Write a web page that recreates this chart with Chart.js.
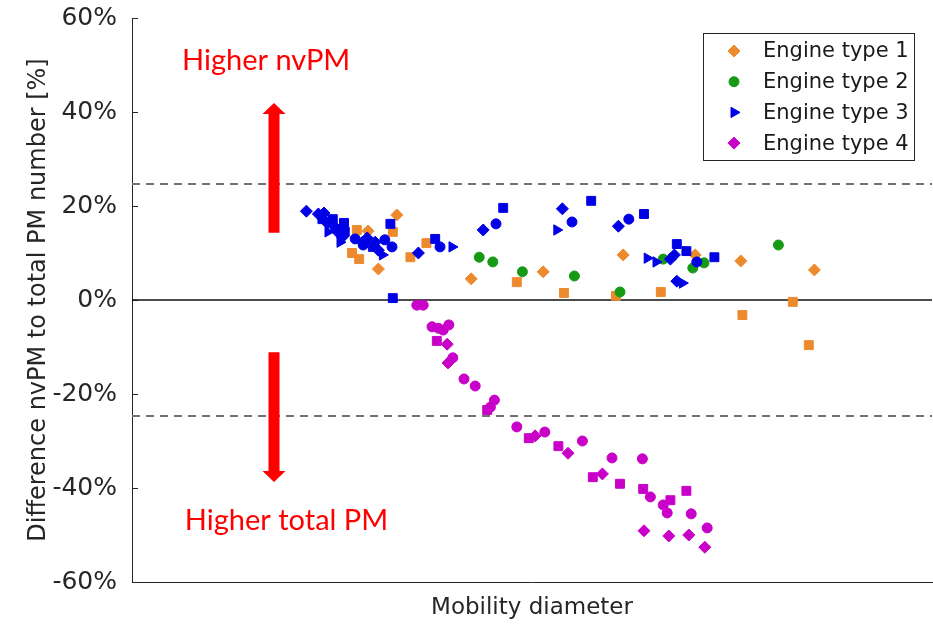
<!DOCTYPE html>
<html>
<head>
<meta charset="utf-8">
<script src="https://cdn.jsdelivr.net/npm/chart.js@4.4.1/dist/chart.umd.min.js"></script>
<style>
  html, body { margin: 0; padding: 0; background: #ffffff; }
  #wrap { width: 933px; height: 624px; }
</style>
</head>
<body>
<div id="wrap"><canvas id="c"></canvas></div>
<script>
// Series names and colours
const seriesNames = ['Engine type 1', 'Engine type 2', 'Engine type 3', 'Engine type 4'];
const seriesColors = ['#ee8a2e', '#169a16', '#0000e6', '#c800c8'];

// Marker code per point: d = diamond, c = circle, s = square, t = triangle
const type1X = [33.1, 32.6, 28.1, 29.5, 27.5, 28.4, 30.8, 34.8, 36.8, 42.4, 48.1, 51.4, 54.0, 61.4, 60.5, 66.1, 70.4, 76.1, 85.3, 82.6, 76.3, 84.6];
const type1Y = [18.1, 14.5, 14.9, 14.7, 10.0, 8.7, 6.6, 9.1, 12.1, 4.5, 3.8, 6.0, 1.5, 9.6, 0.9, 1.7, 9.6, 8.3, 6.4, -0.4, -3.2, -9.6];
const type1Marks = 'dssdssdssdsdsdssdddsss';

const type2X = [43.4, 45.1, 48.8, 55.3, 61.0, 66.4, 70.1, 71.5, 80.8];
const type2Y = [9.1, 8.1, 6.0, 5.1, 1.7, 8.7, 6.8, 7.9, 11.7];
const type2Marks = 'ccccccccc';

const type3X = [21.8, 23.3, 24.0, 23.8, 24.4, 25.1, 25.4, 26.5, 24.5, 25.8, 26.6, 26.3, 26.0, 27.9, 28.8, 29.4, 28.9, 30.4, 30.1, 31.6,
                32.3, 32.5, 31.3, 30.8, 32.6, 35.8, 37.9, 38.5, 40.0, 43.9, 45.5, 46.4, 53.8, 55.0, 53.1, 57.4, 60.8, 62.1, 64.0, 64.4,
                65.5, 67.3, 67.8, 68.1, 69.3, 70.6, 72.8, 68.1, 68.8];
const type3Y = [18.9, 18.3, 18.5, 17.2, 16.4, 17.2, 15.5, 16.4, 14.5, 14.3, 14.5, 13.4, 12.3, 13.0, 12.3, 13.2, 11.7, 12.3, 11.3, 12.8,
                16.2, 11.3, 9.6, 10.6, 0.4, 10.0, 13.0, 11.3, 11.3, 14.9, 16.2, 19.6, 19.4, 16.6, 14.9, 21.1, 15.7, 17.2, 18.3, 8.9,
                8.1, 8.7, 9.6, 11.9, 10.4, 8.1, 9.1, 4.0, 3.6];
const type3Marks = 'dddsdsdstdsdtcddcdscsctdsdsctdcsdctsdcsttddsscsdt';

const type4X = [35.6, 36.4, 37.5, 38.3, 38.9, 39.6, 38.1, 39.4, 40.1, 39.5, 41.5, 42.9, 45.3, 44.8, 44.4, 48.1, 49.6, 50.4, 51.6, 53.3,
                54.5, 56.3, 60.0, 63.8, 57.6, 58.8, 61.0, 63.9, 64.8, 66.4, 67.3, 66.9, 69.3, 69.9, 64.0, 67.1, 69.6, 71.9, 71.6];
const type4Y = [-1.1, -1.1, -5.7, -6.0, -6.4, -5.3, -8.7, -9.4, -12.3, -13.4, -16.8, -18.3, -21.3, -22.8, -23.4, -27.0, -29.4, -28.9, -28.1, -31.1,
                -32.6, -30.0, -33.6, -33.8, -37.7, -37.0, -39.1, -40.2, -41.9, -43.6, -42.6, -45.3, -40.6, -45.5, -49.1, -50.2, -50.0, -48.5, -52.6];
const type4Marks = 'ccccccsdcdccccscsdcsdcccsdssccscscdddcd';

const legendMarks = 'dctd';

// Y axis ticks and the ±band limits
const yTicks = [-60, -40, -20, 0, 20, 40, 60];
const bandLimits = [24.7, -24.7];

// Annotation arrows (x, from, to) and their captions
const upArrow = { x: 17.75, from: 14.3, to: 41.9 };
const downArrow = { x: 17.75, from: -11.1, to: -38.7 };
const captions = [
  { text: 'Higher nvPM', x: 6.25, y: 48.9 },
  { text: 'Higher total PM', x: 6.6, y: -48.9 }
];

const shapeOf = { d: 'rectRot', c: 'circle', s: 'rect', t: 'triangle' };
const sizeOf = { d: 6.0, c: 5.0, s: 6.3, t: 6.0 };

function makeSet(i, xs, ys, marks) {
  return {
    label: seriesNames[i],
    data: xs.map((x, k) => ({ x, y: ys[k] })),
    backgroundColor: seriesColors[i],
    borderColor: seriesColors[i],
    borderWidth: 1,
    pointStyle: c => shapeOf[marks[c.dataIndex]],
    pointRadius: c => sizeOf[marks[c.dataIndex]],
    pointHoverRadius: c => sizeOf[marks[c.dataIndex]],
    rotation: c => (marks[c.dataIndex] === 't' ? 90 : 0),
    order: 4 - i
  };
}

function drawArrow(ctx, px, y0, y1) {
  const shaft = 5.5, head = 11.5, headLen = 11;
  const dir = y1 < y0 ? -1 : 1;
  const base = y1 - dir * headLen;
  ctx.beginPath();
  ctx.moveTo(px - shaft, y0);
  ctx.lineTo(px - shaft, base);
  ctx.lineTo(px - head, base);
  ctx.lineTo(px, y1);
  ctx.lineTo(px + head, base);
  ctx.lineTo(px + shaft, base);
  ctx.lineTo(px + shaft, y0);
  ctx.closePath();
  ctx.fill();
}

const overlay = {
  id: 'overlay',
  beforeDatasetsDraw(chart) {
    const { ctx, chartArea: a, scales: { y } } = chart;
    ctx.save();
    // inward tick marks on the y axis
    ctx.strokeStyle = '#262626';
    ctx.lineWidth = 1;
    yTicks.forEach(v => {
      const py = Math.round(y.getPixelForValue(v)) + 0.5;
      ctx.beginPath();
      ctx.moveTo(a.left, py);
      ctx.lineTo(a.left + 6, py);
      ctx.stroke();
    });
    // dashed band limits
    ctx.setLineDash([8, 6]);
    ctx.strokeStyle = '#707070';
    ctx.lineWidth = 2;
    bandLimits.forEach(v => {
      const py = Math.round(y.getPixelForValue(v));
      ctx.beginPath();
      ctx.moveTo(a.left, py);
      ctx.lineTo(a.right, py);
      ctx.stroke();
    });
    ctx.setLineDash([]);
    // zero line
    const pz = Math.round(y.getPixelForValue(0));
    ctx.strokeStyle = '#111111';
    ctx.lineWidth = 1.5;
    ctx.beginPath();
    ctx.moveTo(a.left, pz);
    ctx.lineTo(a.right, pz);
    ctx.stroke();
    ctx.restore();
  },
  afterDraw(chart) {
    const { ctx, chartArea: a, scales: { x, y } } = chart;
    ctx.save();
    // red arrows and captions
    ctx.fillStyle = '#ff0000';
    [upArrow, downArrow].forEach(ar => {
      drawArrow(ctx, x.getPixelForValue(ar.x), y.getPixelForValue(ar.from), y.getPixelForValue(ar.to));
    });
    ctx.font = '29px Lato';
    ctx.textAlign = 'left';
    ctx.textBaseline = 'alphabetic';
    captions.forEach(c => ctx.fillText(c.text, x.getPixelForValue(c.x), y.getPixelForValue(c.y)));

    // legend box
    const bw = 211, bh = 127;
    const left = a.right - 229, top = a.top + 15;
    ctx.fillStyle = '#ffffff';
    ctx.fillRect(left, top, bw, bh);
    ctx.strokeStyle = '#262626';
    ctx.lineWidth = 1;
    ctx.strokeRect(Math.round(left) + 0.5, Math.round(top) + 0.5, bw, bh);
    ctx.font = '21px "DejaVu Sans"';
    ctx.textBaseline = 'middle';
    seriesNames.forEach((name, i) => {
      const cy = top + 18 + i * 30.7;
      const m = legendMarks[i];
      ctx.fillStyle = seriesColors[i];
      ctx.strokeStyle = seriesColors[i];
      Chart.helpers.drawPoint(ctx, {
        pointStyle: shapeOf[m], radius: sizeOf[m], rotation: m === 't' ? 90 : 0, borderWidth: 1
      }, left + 31, cy);
      ctx.fillStyle = '#1a1a1a';
      ctx.fillText(name, left + 60, cy + 1);
    });
    ctx.restore();
  }
};

new Chart(document.getElementById('c'), {
  type: 'scatter',
  data: {
    datasets: [
      makeSet(0, type1X, type1Y, type1Marks),
      makeSet(1, type2X, type2Y, type2Marks),
      makeSet(2, type3X, type3Y, type3Marks),
      makeSet(3, type4X, type4Y, type4Marks)
    ]
  },
  options: {
    responsive: true,
    maintainAspectRatio: false,
    animation: false,
    layout: { autoPadding: false, padding: { top: 18, right: 1, left: 0, bottom: 0 } },
    plugins: { legend: { display: false }, tooltip: { enabled: false } },
    scales: {
      x: {
        type: 'linear', min: 0, max: 100,
        ticks: { display: false },
        grid: { display: false },
        border: { display: true, color: '#262626', width: 1 },
        title: {
          display: true, text: 'Mobility diameter', color: '#262626',
          font: { family: 'DejaVu Sans', size: 23 }, padding: { top: 0, bottom: 2 }
        },
        afterFit: s => { s.height = 42; }
      },
      y: {
        min: -60, max: 60,
        ticks: {
          stepSize: 20, callback: v => v + '%', color: '#262626',
          font: { family: 'DejaVu Sans', size: 25, lineHeight: 0.2 }, padding: 7
        },
        grid: { display: false },
        border: { display: true, color: '#262626', width: 1 },
        title: {
          display: true, text: 'Difference nvPM to total PM number [%]', color: '#262626',
          font: { family: 'DejaVu Sans', size: 24 }, padding: { top: 24, bottom: 0 }
        },
        afterFit: s => { s.width = 132; }
      }
    }
  },
  plugins: [overlay]
});
</script>
</body>
</html>
